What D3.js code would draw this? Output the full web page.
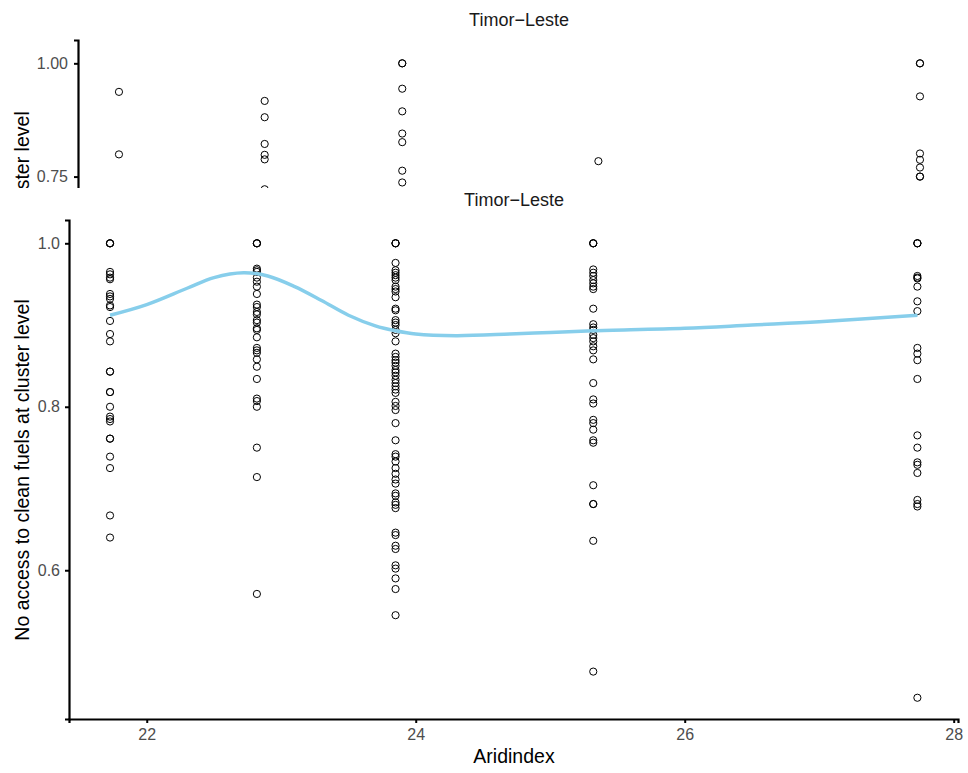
<!DOCTYPE html>
<html>
<head>
<meta charset="utf-8">
<script src="https://cdn.jsdelivr.net/npm/d3@7"></script>
<style>
  body { margin: 0; background: #fff; }
  text { font-family: "Liberation Sans", Arial, sans-serif; }
</style>
</head>
<body>
<div id="chart"></div>
<script>
// Aridindex value of each cluster column
let aridX = [21.727, 22.819, 23.85, 25.32, 27.73];

// main panel: share with no access to clean fuels, one array per column
let main1 = [1, 1, 1, 0.965, 0.962, 0.958, 0.956, 0.938, 0.935, 0.932, 0.924, 0.922, 0.905, 0.889, 0.880,
    0.843, 0.843, 0.818, 0.818, 0.800, 0.788, 0.785, 0.782, 0.761, 0.761, 0.739, 0.725, 0.667, 0.640];
let main2 = [1, 1, 1, 0.969, 0.967, 0.965, 0.958, 0.953, 0.947, 0.938, 0.925, 0.922, 0.916, 0.913, 0.906,
    0.903, 0.896, 0.894, 0.885, 0.872, 0.869, 0.866, 0.858, 0.849, 0.834, 0.810, 0.807, 0.800, 0.750,
    0.714, 0.571];
let main3 = [1, 1, 1, 0.976, 0.967, 0.964, 0.961, 0.958, 0.955, 0.947, 0.944, 0.941, 0.934, 0.920, 0.918,
    0.906, 0.903, 0.900, 0.894, 0.890, 0.880, 0.865, 0.861, 0.857, 0.854, 0.850, 0.845, 0.842, 0.838,
    0.833, 0.829, 0.825, 0.821, 0.817, 0.806, 0.801, 0.796, 0.780, 0.759, 0.742, 0.739, 0.733, 0.725,
    0.718, 0.711, 0.706, 0.694, 0.691, 0.683, 0.680, 0.676, 0.646, 0.643, 0.630, 0.626, 0.606, 0.602,
    0.590, 0.577, 0.545];
let main4 = [1, 1, 1, 0.968, 0.964, 0.960, 0.955, 0.951, 0.947, 0.944, 0.920, 0.901, 0.897, 0.894, 0.888,
    0.884, 0.880, 0.874, 0.869, 0.858, 0.829, 0.809, 0.804, 0.784, 0.780, 0.772, 0.759, 0.756, 0.704,
    0.681, 0.681, 0.636, 0.476];
let main5 = [1, 1, 1, 0.960, 0.958, 0.957, 0.947, 0.929, 0.917, 0.872, 0.865, 0.857, 0.834, 0.765, 0.750,
    0.732, 0.729, 0.719, 0.686, 0.681, 0.678, 0.444];

// smoothed fit
let smoothX = [21.727, 22.0, 22.3, 22.5, 22.72, 22.9, 23.1, 23.3, 23.5, 23.7, 23.85, 24.0, 24.3, 24.7, 25.0,
    25.32, 26.0, 26.5, 27.0, 27.73];
let smoothY = [0.912, 0.925, 0.945, 0.958, 0.964, 0.960, 0.947, 0.930, 0.912, 0.899, 0.893, 0.889, 0.887,
    0.889, 0.891, 0.893, 0.896, 0.900, 0.904, 0.912];

// the panel peeking out above (cut off by the main panel)
let top1 = [0.937, 0.799];
let top2 = [0.917, 0.881, 0.822, 0.798, 0.788, 0.722];
let top3 = [1, 1, 0.944, 0.894, 0.845, 0.826, 0.763, 0.737];
let top4 = [0.784];
let top5 = [1, 1, 0.927, 0.801, 0.787, 0.770, 0.75, 0.75];

let mainTicksX = [22, 24, 26, 28];
let mainTicksY = [0.6, 0.8, 1.0];
let topTicksY = [0.75, 1.00];

let title = "Timor\u2212Leste";
let xTitle = "Aridindex";
let yTitle = "No access to clean fuels at cluster level";

let W = 968, H = 773;
let tickFont = 16, titleFont = 18, axisTitleFont = 19.5;

function toPoints(cols) {
    let pts = [];
    cols.forEach(function(vals, i) {
        vals.forEach(function(v) { pts.push({x: aridX[i], y: v}); });
    });
    return pts;
}

function styleAxis(ax) {
    ax.attr("font-size", tickFont).attr("font-family", "Liberation Sans, Arial, sans-serif");
    ax.select(".domain").attr("stroke-width", 2.2);
    ax.selectAll(".tick line").attr("stroke-width", 2);
    ax.selectAll(".tick text").style("font-size", tickFont + "px").attr("fill", "#4d4d4d");
}

let svg = d3.select("#chart").append("svg")
    .attr("width", W)
    .attr("height", H);

svg.append("defs").append("clipPath").attr("id", "topClip")
    .append("rect").attr("x", 0).attr("y", 0).attr("width", W).attr("height", 188);

// ---------- top (cropped) panel ----------
let gTop = svg.append("g").attr("clip-path", "url(#topClip)");

let xTop = d3.scaleLinear().domain([21.42, 28.03]).range([78, 960]);
let yTop = d3.scaleLinear().domain([1.0515, 0.4]).range([40, 40 + (1.0515 - 0.4) * 453]);

gTop.append("text")
    .attr("x", 519).attr("y", 26)
    .attr("text-anchor", "middle")
    .attr("font-size", titleFont)
    .attr("fill", "#1a1a1a")
    .text(title);

gTop.selectAll("circle")
    .data(toPoints([top1, top2, top3, top4, top5]))
    .enter().append("circle")
    .attr("cx", function(d) { return xTop(d.x); })
    .attr("cy", function(d) { return yTop(d.y); })
    .attr("r", 3.6)
    .attr("fill", "none")
    .attr("stroke", "#000")
    .attr("stroke-width", 1);

let topAxis = gTop.append("g")
    .attr("transform", "translate(78,0)")
    .call(d3.axisLeft(yTop).tickValues(topTicksY).tickFormat(d3.format(".2f"))
        .tickSizeOuter(0).tickSize(4).tickPadding(6));
styleAxis(topAxis);

gTop.append("text")
    .attr("transform", "translate(29,282) rotate(-90)")
    .attr("text-anchor", "middle")
    .attr("font-size", axisTitleFont)
    .attr("fill", "#000")
    .text(yTitle);

// ---------- main panel ----------
svg.append("rect")
    .attr("x", 0).attr("y", 188)
    .attr("width", W).attr("height", H - 188)
    .attr("fill", "#fff");

let x = d3.scaleLinear().domain([21.422, 28.032]).range([69, 958]);
let y = d3.scaleLinear().domain([0.418, 1.0285]).range([719, 220]);

svg.append("text")
    .attr("x", 514).attr("y", 206)
    .attr("text-anchor", "middle")
    .attr("font-size", titleFont)
    .attr("fill", "#1a1a1a")
    .text(title);

svg.append("g").selectAll("circle")
    .data(toPoints([main1, main2, main3, main4, main5]))
    .enter().append("circle")
    .attr("cx", function(d) { return x(d.x); })
    .attr("cy", function(d) { return y(d.y); })
    .attr("r", 3.6)
    .attr("fill", "none")
    .attr("stroke", "#000")
    .attr("stroke-width", 1);

let line = d3.line()
    .x(function(d) { return x(d[0]); })
    .y(function(d) { return y(d[1]); })
    .curve(d3.curveCatmullRom);

svg.append("path")
    .datum(d3.zip(smoothX, smoothY))
    .attr("d", line)
    .attr("fill", "none")
    .attr("stroke", "#87ceeb")
    .attr("stroke-width", 3.5);

let xAxis = svg.append("g")
    .attr("transform", "translate(0,719)")
    .call(d3.axisBottom(x).tickValues(mainTicksX).tickFormat(d3.format("d"))
        .tickSizeOuter(0).tickSize(4).tickPadding(6));
styleAxis(xAxis);

let yAxis = svg.append("g")
    .attr("transform", "translate(69,0)")
    .call(d3.axisLeft(y).tickValues(mainTicksY).tickFormat(d3.format(".1f"))
        .tickSizeOuter(0).tickSize(4).tickPadding(5));
styleAxis(yAxis);

svg.append("text")
    .attr("x", 514).attr("y", 763)
    .attr("text-anchor", "middle")
    .attr("font-size", axisTitleFont)
    .attr("fill", "#000")
    .text(xTitle);

svg.append("text")
    .attr("transform", "translate(29,470) rotate(-90)")
    .attr("text-anchor", "middle")
    .attr("font-size", axisTitleFont)
    .attr("fill", "#000")
    .text(yTitle);
</script>
</body>
</html>
